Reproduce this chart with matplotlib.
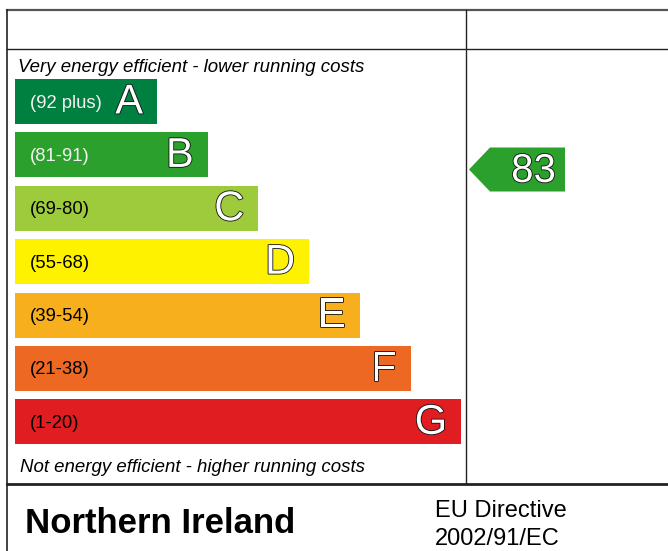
import matplotlib
matplotlib.use("Agg")
import matplotlib.pyplot as plt
import matplotlib.patheffects as pe
from matplotlib.patches import Polygon

# ---- data ----
bands = ["A", "B", "C", "D", "E", "F", "G"]
ranges = ["(92 plus)", "(81-91)", "(69-80)", "(55-68)", "(39-54)", "(21-38)", "(1-20)"]
colors = ["#008040", "#2ca02c", "#9dcb3c", "#fff200", "#f7af1d", "#ec6823", "#e01e22"]
range_text_colors = ["#f2f2f2", "#f2f2f2", "black", "black", "black", "black", "black"]
band_lower = [92, 81, 69, 55, 39, 21, 1]
current_rating = 83
top_note = "Very energy efficient - lower running costs"
bottom_note = "Not energy efficient - higher running costs"
region = "Northern Ireland"
directive = ["EU Directive", "2002/91/EC"]

plt.rcParams['font.family'] = ['Liberation Sans', 'DejaVu Sans']

W, H = 668, 551
fig = plt.figure(figsize=(W / 100, H / 100), dpi=100)
ax = fig.add_axes([0, 0, 1, 1])
ax.set_xlim(0, W)
ax.set_ylim(H, 0)
ax.axis("off")

# frame
lc = "#222222"
ax.plot([7, W], [10, 10], color="#555555", lw=1.6)
ax.plot([7, W], [49, 49], color=lc, lw=1.0)
ax.plot([7, 7], [10, H], color=lc, lw=1.2)
ax.plot([466, 466], [10, 484], color=lc, lw=1.0)
ax.plot([7, W], [484, 484], color=lc, lw=2.0)

# bars
y0, dy, bh = 101.5, 53.4, 45
left = 15
base_len, step_len = 142, 50.7
ys = [y0 + i * dy for i in range(len(bands))]
lens = [base_len + i * step_len for i in range(len(bands))]
ax.barh(ys, lens, left=left, height=bh, color=colors, edgecolor="none")

outline = [pe.withStroke(linewidth=1.2, foreground="#111111")]
for i, b in enumerate(bands):
    ax.text(left + 15, ys[i] + 1.5, ranges[i], fontsize=13.3, color=range_text_colors[i],
            ha="left", va="center")
    ax.text(left + lens[i] - 14, ys[i] + 1, b, fontsize=30, color="white",
            ha="right", va="center", path_effects=outline)

ax.text(18, 72, top_note, fontsize=13.4, style="italic", ha="left", va="baseline")
ax.text(20, 472, bottom_note, fontsize=13.4, style="italic", ha="left", va="baseline")

# current rating arrow
cur_band = next(i for i, r in enumerate(band_lower) if current_rating >= r)
ac = 169.5
ah = 22
arrow = Polygon([[469, ac], [490, ac - ah], [565, ac - ah], [565, ac + ah], [490, ac + ah]],
                closed=True, facecolor=colors[cur_band], edgecolor="none")
ax.add_patch(arrow)
ax.text(556, ac + 1.5, str(current_rating), fontsize=29, color="white", ha="right", va="center",
        path_effects=outline)

# footer
ax.text(25, 533, region, fontsize=25, fontweight="bold", ha="left", va="baseline")
ax.text(435, 517, directive[0], fontsize=17, ha="left", va="baseline")
ax.text(435, 545, directive[1], fontsize=17, ha="left", va="baseline")

fig.savefig("out.png", dpi=100)
